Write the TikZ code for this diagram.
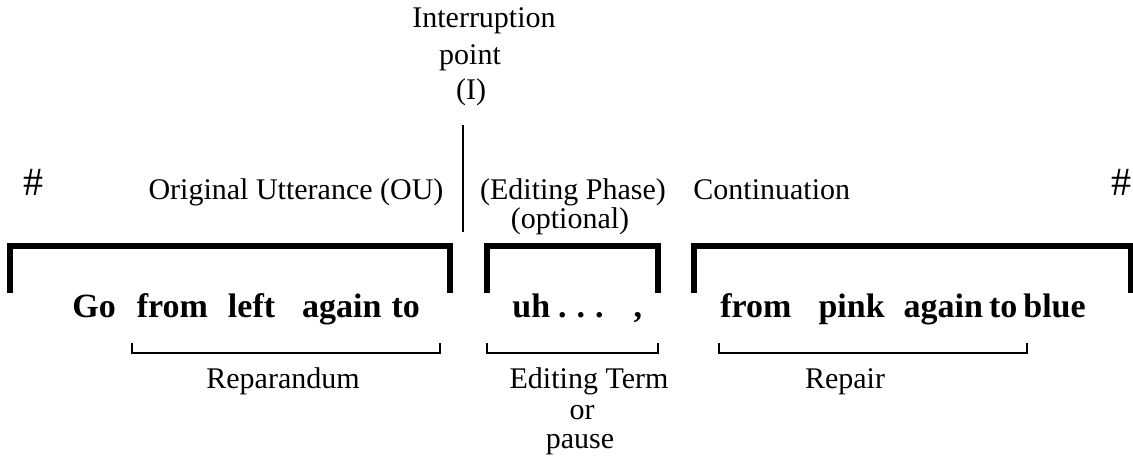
\documentclass[tikz,border=0pt]{standalone}
\usepackage{fontspec}
\setmainfont{Liberation Serif}
\begin{document}
\begin{tikzpicture}[x=0.5pt,y=-0.5pt]
	% Styles
	\tikzstyle{crochet}=[line width=3pt]
	\tikzstyle{accolade}=[line width=1pt]
	\tikzstyle{coupure}=[line width=1pt]
	\tikzstyle{enonce}=[font=\fontsize{17}{20}\selectfont\bfseries,inner sep=0pt,anchor=base west]
	\tikzstyle{etiquette}=[font=\fontsize{15}{18}\selectfont,inner sep=0pt,anchor=base]
	\tikzstyle{diese}=[font=\fontsize{20}{24}\selectfont,inner sep=0pt,anchor=base]
	% Dimensions
	\def\HautCrochet{246}
	\def\BasCrochet{293}
	\def\HautAccolade{343}
	\def\BasAccolade{353}
	\def\LigneHaut{200}
	\def\LigneBas{389}
	\useasboundingbox (0,0) rectangle (1133,458);
	% Noeuds du haut
	\node[etiquette] (interruption) at (484,28) {Interruption};
	\node[etiquette] (point) at (470,65) {point};
	\node[etiquette] (I) at (471,100) {(I)};
	\node[diese] (dieseG) at (34,196) {\#};
	\node[etiquette] (OU) at (296,\LigneHaut) {Original Utterance (OU)};
	\node[etiquette] (phase) at (573,\LigneHaut) {(Editing Phase)};
	\node[etiquette] (option) at (570,229) {(optional)};
	\node[etiquette, anchor=base west] (continuation) at (693,\LigneHaut) {Continuation};
	\node[diese] (dieseD) at (1121,196) {\#};
	% Enonce
	\node[enonce] (OUtexte) at (72,318) {Go\hspace{10.5pt}from\hspace{10pt}left\hspace{13.5pt}again\hspace{5pt}to};
	\node[enonce] (ET) at (512,318) {uh\hspace{4pt}.\hspace{5pt}.\hspace{5pt}.\hspace{15pt},};
	\node[enonce] (suite) at (720,318) {from\hspace{13.5pt}pink\hspace{9.5pt}again\hspace{3pt}to\hspace{3pt}blue};
	% Noeuds du bas
	\node[etiquette] (reparandum) at (283,\LigneBas) {Reparandum};
	\node[etiquette] (terme) at (589,\LigneBas) {Editing Term};
	\node[etiquette] (ou) at (582,419) {or};
	\node[etiquette] (pause) at (580,448) {pause};
	\node[etiquette] (repair) at (845,\LigneBas) {Repair};
	% Point d'interruption
	\coordinate (Ia) at (463,125);
	\coordinate (Ib) at (463,232);
	\draw[coupure] (Ia) -- (Ib);
	% Crochets
	\draw[crochet] (10,\BasCrochet) -- (10,\HautCrochet) -- (450,\HautCrochet) -- (450,\BasCrochet);
	\draw[crochet] (487,\BasCrochet) -- (487,\HautCrochet) -- (658,\HautCrochet) -- (658,\BasCrochet);
	\draw[crochet] (694,\BasCrochet) -- (694,\HautCrochet) -- (1131,\HautCrochet) -- (1131,\BasCrochet);
	% Accolades
	\draw[accolade] (132,\HautAccolade) -- (132,\BasAccolade) -- (440,\BasAccolade) -- (440,\HautAccolade);
	\draw[accolade] (487,\HautAccolade) -- (487,\BasAccolade) -- (658,\BasAccolade) -- (658,\HautAccolade);
	\draw[accolade] (719,\HautAccolade) -- (719,\BasAccolade) -- (1027,\BasAccolade) -- (1027,\HautAccolade);
\end{tikzpicture}
\end{document}
